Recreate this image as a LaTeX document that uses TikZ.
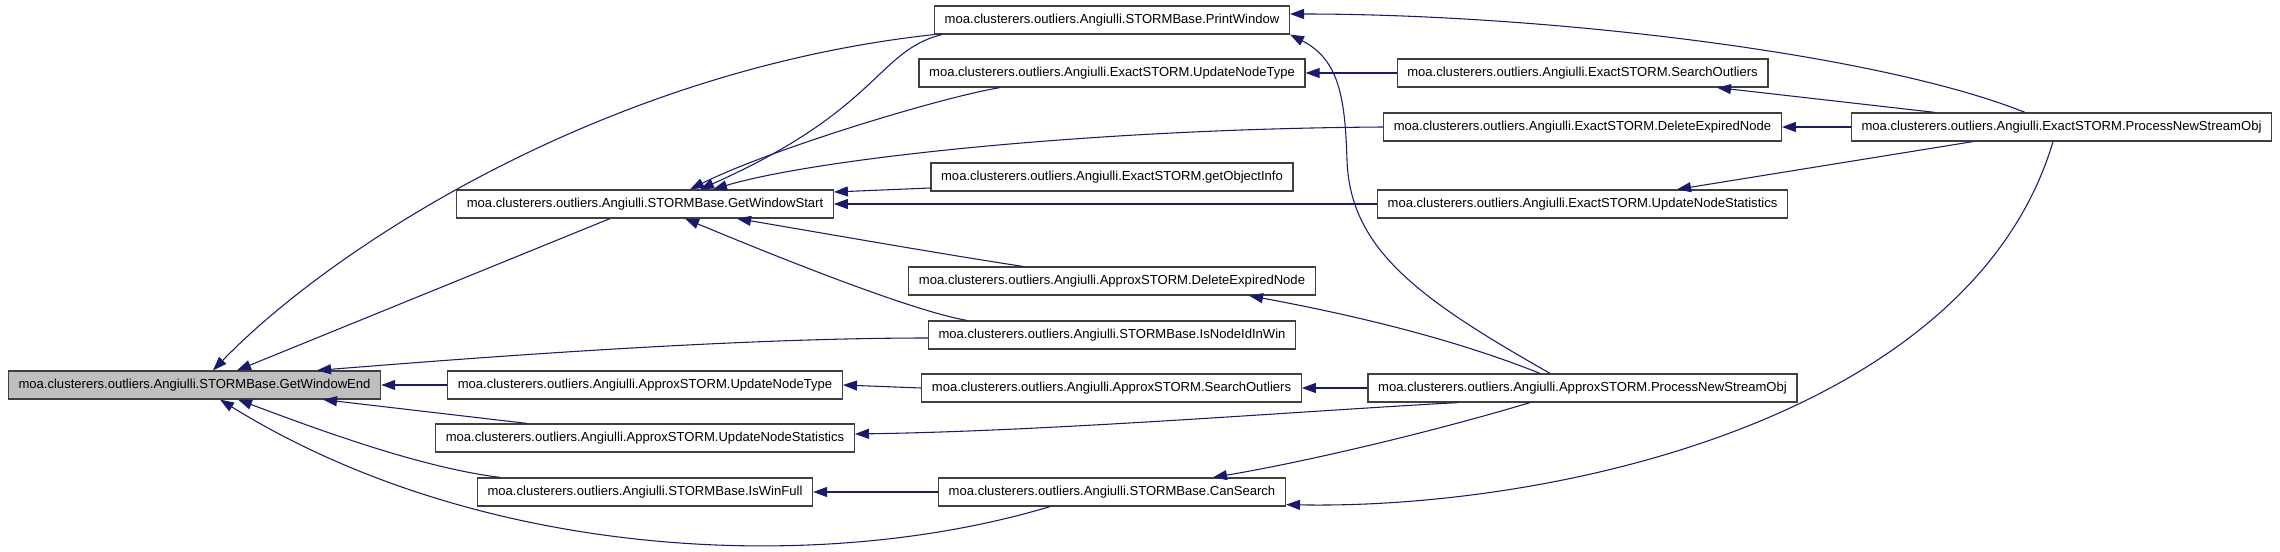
\documentclass[tikz,border=0pt]{standalone}
\usepackage{fontspec}
\setmainfont{Liberation Sans}
\usetikzlibrary{arrows.meta}
\definecolor{edgeblue}{RGB}{25,25,112}
\definecolor{focusgray}{RGB}{191,191,191}
\definecolor{boxline}{RGB}{64,64,64}
\tikzset{func/.style={draw=boxline,line width=0.9pt,fill=white,minimum height=21pt,
 inner xsep=7.6pt,inner ysep=0pt,font=\fontsize{9.8pt}{11pt}\selectfont},
 focus/.style={func,fill=focusgray},
 call/.style={edgeblue,line width=0.8pt,-{Triangle[length=10.5pt,width=7.5pt]}}}

\begin{document}
\begin{tikzpicture}[x=0.75pt,y=-0.75pt]
\useasboundingbox (0,0) rectangle (2280,552);
% functions
\node[focus] (gwe) at (194.5,385) {moa.clusterers.outliers.Angiulli.STORMBase.GetWindowEnd};
\node[func] (gws) at (645,204) {moa.clusterers.outliers.Angiulli.STORMBase.GetWindowStart};
\node[func] (aunt) at (645,385) {moa.clusterers.outliers.Angiulli.ApproxSTORM.UpdateNodeType};
\node[func] (auns) at (645,438) {moa.clusterers.outliers.Angiulli.ApproxSTORM.UpdateNodeStatistics};
\node[func] (iwf) at (645,492) {moa.clusterers.outliers.Angiulli.STORMBase.IsWinFull};
\node[func] (pw) at (1112,20) {moa.clusterers.outliers.Angiulli.STORMBase.PrintWindow};
\node[func] (eunt) at (1112,73) {moa.clusterers.outliers.Angiulli.ExactSTORM.UpdateNodeType};
\node[func] (goi) at (1112,177) {moa.clusterers.outliers.Angiulli.ExactSTORM.getObjectInfo};
\node[func] (aden) at (1112,281) {moa.clusterers.outliers.Angiulli.ApproxSTORM.DeleteExpiredNode};
\node[func] (inw) at (1112,335) {moa.clusterers.outliers.Angiulli.STORMBase.IsNodeIdInWin};
\node[func] (aso) at (1111.5,388) {moa.clusterers.outliers.Angiulli.ApproxSTORM.SearchOutliers};
\node[func] (cs) at (1112,492) {moa.clusterers.outliers.Angiulli.STORMBase.CanSearch};
\node[func] (eso) at (1582.5,73) {moa.clusterers.outliers.Angiulli.ExactSTORM.SearchOutliers};
\node[func] (eden) at (1582.5,127) {moa.clusterers.outliers.Angiulli.ExactSTORM.DeleteExpiredNode};
\node[func] (euns) at (1582.5,204) {moa.clusterers.outliers.Angiulli.ExactSTORM.UpdateNodeStatistics};
\node[func] (apn) at (1582.5,388) {moa.clusterers.outliers.Angiulli.ApproxSTORM.ProcessNewStreamObj};
\node[func] (epn) at (2061.5,127) {moa.clusterers.outliers.Angiulli.ExactSTORM.ProcessNewStreamObj};
% calls of GetWindowEnd
\draw[call] ([shift={(-35,0)}]gws.south) -- ([shift={(42.5,0)}]gwe.north);
\draw[call] (pw.south west) .. controls +(-332,36) and +(117,-121) .. ([shift={(18.5,0)}]gwe.north);
\draw[call] ([shift={(0,3)}]inw.west) .. controls +(-200,0) and +(150,-12) .. ([shift={(122.5,0)}]gwe.north);
\draw[call] (aunt.west) -- (gwe.east);
\draw[call] ([shift={(-118,0)}]auns.north) -- ([shift={(128.5,0)}]gwe.south);
\draw[call] ([shift={(-145,0)}]iwf.north) .. controls +(-80,-10) and +(80,30) .. ([shift={(43.5,0)}]gwe.south);
\draw[call] ([shift={(-62,0)}]cs.south) .. controls +(-230,69) and +(260,161) .. ([shift={(25.5,0)}]gwe.south);
% calls of GetWindowStart
\draw[call] ([shift={(8,0)}]pw.south west) .. controls +(-65,16) and +(180,-80) .. ([shift={(55,0)}]gws.north);
\draw[call] ([shift={(-112,0)}]eunt.south) .. controls +(-60,10) and +(80,-40) .. ([shift={(45,0)}]gws.north);
\draw[call] (eden.west) .. controls +(-300,2) and +(100,-30) .. ([shift={(68,0)}]gws.north);
\draw[call] ([shift={(0,11)}]goi.west) -- ([shift={(0,-12)}]gws.east);
\draw[call] (euns.west) -- (gws.east);
\draw[call] ([shift={(-89,0)}]aden.north) .. controls +(-80,-12) and +(60,10) .. ([shift={(92,0)}]gws.south);
\draw[call] ([shift={(-145,0)}]inw.north) .. controls +(-60,-10) and +(60,25) .. ([shift={(40,0)}]gws.south);
% other calls
\draw[call] (eso.west) -- (eunt.east);
\draw[call] (aso.west) -- (aunt.east);
\draw[call] (cs.west) -- (iwf.east);
% ExactSTORM.ProcessNewStreamObj
\draw[call] ([shift={(-36.5,0)}]epn.north) .. controls +(-150,-60) and +(250,0) .. ([shift={(0,-6)}]pw.east);
\draw[call] ([shift={(-126.5,0)}]epn.north) -- ([shift={(134.5,0)}]eso.south);
\draw[call] (epn.west) -- (eden.east);
\draw[call] ([shift={(-88.5,0)}]epn.south) -- ([shift={(94.5,0)}]euns.north);
\draw[call] ([shift={(-8.5,0)}]epn.south) .. controls +(-83,279) and +(263,5) .. ([shift={(0,-2)}]cs.south east);
% ApproxSTORM.ProcessNewStreamObj
\draw[call] ([shift={(-32.5,0)}]apn.north) .. controls +(-130,-74) and +(3,90) .. (1347,160)
  .. controls (1345,100) and (1340,60) .. (pw.south east);
\draw[call] ([shift={(-42.5,0)}]apn.north) .. controls +(-100,-40) and +(80,15) .. ([shift={(137,0)}]aden.south);
\draw[call] (apn.west) -- (aso.east);
\draw[call] ([shift={(-124.5,0)}]apn.south) .. controls +(-150,8) and +(200,-3) .. ([shift={(0,-4)}]auns.east);
\draw[call] ([shift={(-52.5,0)}]apn.south) .. controls +(-100,30) and +(90,-15) .. ([shift={(101,0)}]cs.north);
\end{tikzpicture}
\end{document}
